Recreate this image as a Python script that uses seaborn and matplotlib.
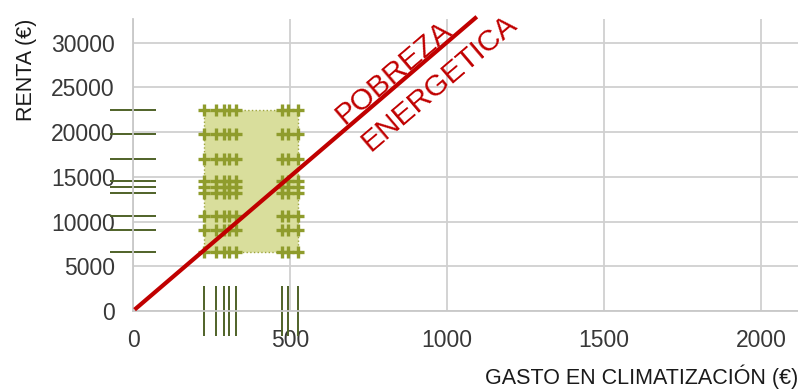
import numpy as np
import pandas as pd
import seaborn as sns
import matplotlib.pyplot as plt

# gasto en climatización (€) de los hogares tipo
gasto = [227, 264, 290, 307, 328, 475, 493, 526]
# renta (€) de los hogares tipo
renta = [6600, 9100, 10600, 13200, 13900, 14500, 17000, 19800, 22500]
# recta umbral de pobreza energética
umbral_gasto = [5, 1095]
umbral_renta = [150, 32900]

x_ticks = [0, 500, 1000, 1500, 2000]
y_ticks = [0, 5000, 10000, 15000, 20000, 25000, 30000]

df = pd.DataFrame([(g, r) for g in gasto for r in renta], columns=["gasto", "renta"])

sns.set_theme(style="whitegrid")
plt.rcParams["font.family"] = ["Liberation Sans", "DejaVu Sans"]

fig = plt.figure(figsize=(7.98, 3.92), dpi=100)
ax = fig.add_axes([133 / 798, 1 - 311 / 392, 1 - 133 / 798, 292 / 392])

# zona sombreada que cubre los hogares
ax.fill_between([min(gasto), max(gasto)], min(renta), max(renta),
                facecolor="#d9de9c", edgecolor="#9ea53c", linestyle=":",
                linewidth=1, zorder=1)

sns.scatterplot(data=df, x="gasto", y="renta", marker="+", s=70,
                linewidth=2.4, color="#8f9c2c", zorder=3, ax=ax)

# marcas sobre los ejes
for h in (0.035, -0.035):
    sns.rugplot(y=renta, height=h, color="#4f6228", linewidth=1.4,
                expand_margins=False, clip_on=False, ax=ax)
for h in (0.086, -0.086):
    sns.rugplot(x=gasto, height=h, color="#4f6228", linewidth=1.4,
                expand_margins=False, clip_on=False, ax=ax)

sns.lineplot(x=umbral_gasto, y=umbral_renta, color="#c00000", linewidth=3,
             solid_capstyle="butt", clip_on=False, zorder=4, ax=ax)

ax.text(829, 26700, "POBREZA", rotation=40.4, rotation_mode="anchor",
        ha="center", va="center", color="#c00000", fontsize=21.5)
ax.text(975, 25500, "ENERGETICA", rotation=40.4, rotation_mode="anchor",
        ha="center", va="center", color="#c00000", fontsize=21.5)

ax.set_xlim(0, 2118)
ax.set_ylim(0, 32650)
ax.set_xticks(x_ticks)
ax.set_yticks(y_ticks)
ax.grid(color="#d0d0d0", linewidth=1.3)
for s in ["top", "right"]:
    ax.spines[s].set_visible(False)
for s in ["left", "bottom"]:
    ax.spines[s].set_color("#c8c8c8")
    ax.spines[s].set_linewidth(1.3)
ax.tick_params(length=0, pad=13, labelsize=16.5, labelcolor="#383838")
ax.set_xlabel("GASTO EN CLIMATIZACIÓN (€)", loc="right", fontsize=15.5,
              color="#1a1a1a", labelpad=9)
ax.set_ylabel("RENTA (€)", loc="top", fontsize=15.5, color="#1a1a1a",
              labelpad=10)

plt.savefig("out.png", dpi=100)
